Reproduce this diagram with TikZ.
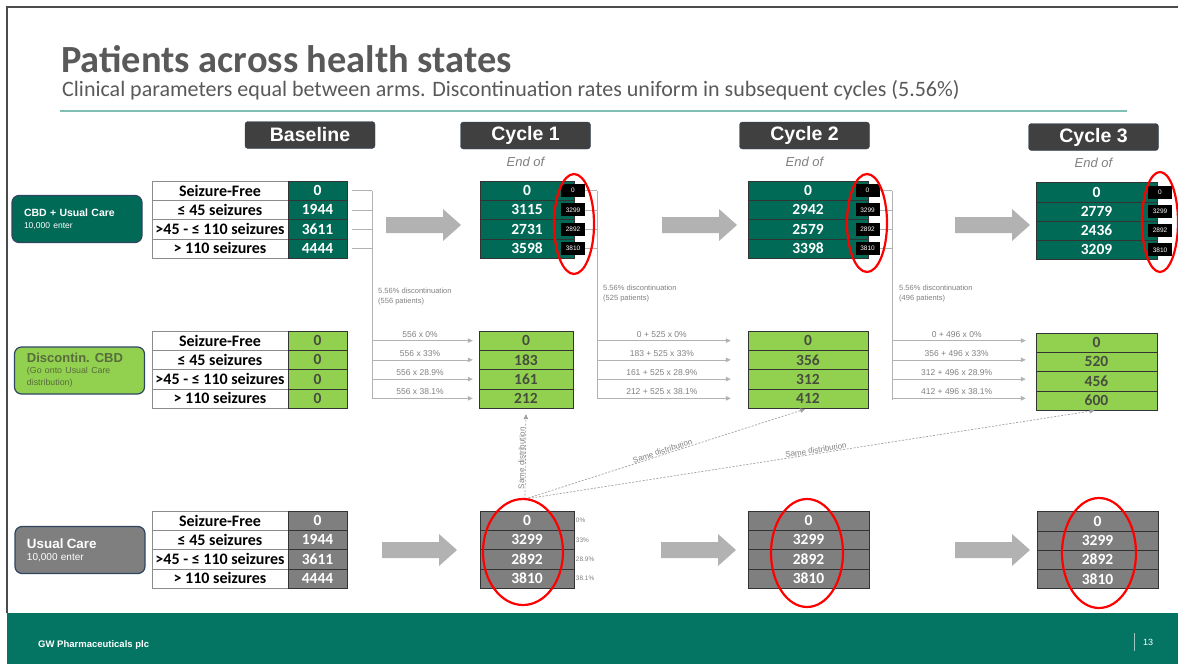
\documentclass[tikz,border=0pt]{standalone}
\usepackage{fontspec}
\setmainfont{Carlito}
\newfontfamily\arialf{Liberation Sans}
\usetikzlibrary{positioning,arrows.meta}

\definecolor{cbdgreen}{RGB}{0,106,87}
\definecolor{disgreen}{RGB}{146,208,80}
\definecolor{ucgray}{RGB}{127,127,127}
\definecolor{footgreen}{RGB}{3,117,98}
\definecolor{titlegray}{RGB}{89,89,89}
\definecolor{rulecol}{RGB}{127,191,180}
\definecolor{hdrgray}{RGB}{64,64,64}
\definecolor{hdrline}{RGB}{47,69,97}
\definecolor{linegray}{RGB}{178,178,178}
\definecolor{dashgray}{RGB}{160,160,160}
\definecolor{txtgray}{RGB}{128,128,128}
\definecolor{arrgray}{RGB}{178,178,178}
\definecolor{numdark}{RGB}{70,78,62}
\definecolor{distxt}{RGB}{88,108,60}

\begin{document}
\begin{tikzpicture}[x=1pt, y=-1pt,
    hdr/.style    ={fill=hdrgray, draw=hdrline, rounded corners=3pt, text=white, inner sep=0pt,
                    minimum width=130pt, minimum height=27pt, font=\arialf\bfseries\fontsize{19.5}{22}\selectfont},
    endof/.style  ={text=txtgray, inner sep=0pt, font=\arialf\itshape\fontsize{13}{15}\selectfont},
    armbox/.style ={draw=hdrline, line width=1.2pt, rounded corners=7pt, inner sep=0pt, align=left,
                    minimum width=130pt, minimum height=47pt, font=\arialf},
    lab/.style    ={draw=black!45, fill=white, inner sep=0pt, minimum width=136pt, minimum height=19.25pt,
                    font=\bfseries\fontsize{16}{18}\selectfont},
    val/.style    ={draw=black!80, inner sep=0pt, minimum height=19.25pt, font=\bfseries\fontsize{15.5}{18}\selectfont},
    blk/.style    ={fill=black, text=white, inner sep=0pt, minimum width=24pt, minimum height=13pt,
                    font=\arialf\fontsize{6.5}{7}\selectfont},
    thinline/.style={draw=linegray, line width=0.7pt},
    flow/.style   ={thinline, -{Triangle[length=5pt,width=4.5pt]}},
    flowlbl/.style={text=txtgray, inner sep=0pt, font=\arialf\fontsize{8.5}{10}\selectfont},
    note/.style   ={text=txtgray, inner sep=0pt, align=left, font=\arialf\fontsize{7.5}{9.5}\selectfont},
    pct/.style    ={text=txtgray, inner sep=1.5pt, font=\arialf\fontsize{6.5}{8}\selectfont},
    samed/.style  ={draw=dashgray, line width=0.7pt, dash pattern=on 2pt off 1.5pt, -{Triangle[length=5pt,width=4.5pt]}},
    samelbl/.style={text=txtgray, inner sep=0.5pt, font=\arialf\fontsize{8}{9}\selectfont},
    redring/.style={draw=red, line width=2.2pt},
    foot/.style   ={text=white, inner sep=0pt, font=\arialf\bfseries\fontsize{9.5}{11}\selectfont}
  ]
  \useasboundingbox (0,0) rectangle (1178,664);

  % frame, title
  \draw[black!70, line width=1.5pt] (7,613) -- (7,7) -- (1178,7);
  \node[anchor=base west, inner sep=0pt, text=titlegray, font=\bfseries\fontsize{38.4}{40}\selectfont] (title) at (61,72) {Patients across health states};
  \node[anchor=base west, inner sep=0pt, text=titlegray, font=\fontsize{22}{24}\selectfont] (subtitle) at (62,96) {Clinical parameters equal between arms. Discontinuation rates uniform in subsequent cycles (5.56\%)};
  \draw[rulecol, line width=2.5pt] (60,111) -- (1127,111);

  % column heads
  \node[hdr] (hbase) at (310,135) {Baseline};
  \node[hdr] (hc1) at (525.5,135.5) {Cycle 1};
  \node[hdr] (hc2) at (804.5,135.5) {Cycle 2};
  \node[hdr] (hc3) at (1093.5,137) {Cycle 3};
  \node[endof, below=8pt of hc1] (end1) {End of};
  \node[endof, below=8pt of hc2] (end2) {End of};
  \node[endof, below=7pt of hc3] (end3) {End of};

  % arms
  \node[armbox, fill=cbdgreen, text=white, text width=106pt] (armcbd) at (77,219)
    {\bfseries\fontsize{10.5}{12}\selectfont CBD + Usual Care\\\mdseries\fontsize{8.5}{10}\selectfont 10,000 enter};
  \node[armbox, fill=disgreen, text=distxt, text width=105pt] (armdis) at (79.5,370.5)
    {\bfseries\fontsize{13}{14}\selectfont Discontin. CBD\\[1pt]\mdseries\fontsize{8.8}{10}\selectfont (Go onto Usual Care\\distribution)};
  \node[armbox, fill=ucgray, text=white, text width=106pt] (armuc) at (80,550)
    {\bfseries\fontsize{13.4}{15}\selectfont Usual Care\\\mdseries\fontsize{10}{12}\selectfont 10,000 enter};

  % baseline tables
  \foreach \r/\y/\fc/\tc/\va/\vb/\vc/\vd in {cbd/190.6/cbdgreen/white/0/1944/3611/4444,
      dis/340.6/disgreen/numdark/0/0/0/0, uc/520.6/ucgray/white/0/1944/3611/4444}
    \foreach \t/\v [count=\i] in {Seizure-Free/\va, ≤ 45 seizures/\vb, >45 - ≤ 110 seizures/\vc, > 110 seizures/\vd}{
      \node[lab] (\r-b-l\i) at (220,\y+19.25*\i-19.25) {\t};
      \node[val, fill=\fc, text=\tc, minimum width=59pt] (\r-b-\i) at (317.5,\y+19.25*\i-19.25) {\v};
    }

  % cycle tables
  \foreach \r/\y/\fc/\tc/\c/\x/\w/\va/\vb/\vc/\vd in {
      cbd/190.6/cbdgreen/white/1/527/94pt/0/3115/2731/3598,
      cbd/190.6/cbdgreen/white/2/808/120pt/0/2942/2579/3398,
      cbd/192.1/cbdgreen/white/3/1096.5/121pt/0/2779/2436/3209,
      dis/340.6/disgreen/numdark/1/526/94pt/0/183/161/212,
      dis/340.6/disgreen/numdark/2/808/120pt/0/356/312/412,
      dis/342.6/disgreen/numdark/3/1096.5/121pt/0/520/456/600,
      uc/520.6/ucgray/white/1/527/94pt/0/3299/2892/3810,
      uc/520.6/ucgray/white/2/808.5/121pt/0/3299/2892/3810,
      uc/521.1/ucgray/white/3/1097.5/121pt/0/3299/2892/3810}
    \foreach \v [count=\i] in {\va,\vb,\vc,\vd}
      \node[val, fill=\fc, text=\tc, minimum width=\w] (\r-c\c-\i) at (\x,\y+19.25*\i-19.25) {\v};

  \foreach \c/\x/\y in {1/573/190.6, 2/867.5/190.6, 3/1160/192.1}
    \foreach \v [count=\i] in {0,3299,2892,3810}
      \node[blk] (cbd-k\c-\i) at (\x,\y+19.25*\i-19.25) {\v};

  \foreach \p [count=\i] in {0\%,33\%,28.9\%,38.1\%}
    \node[pct, anchor=west] (uc-p\i) at (uc-c1-\i.east) {\p};

  % discontinuation brackets
  \coordinate (br0) at (372,0);
  \coordinate (br1) at (597,0);
  \coordinate (br2) at (892,0);
  \draw[thinline] (br0 |- cbd-b-1) -- (br0 |- dis-c1-4);
  \draw[thinline] (br1 |- cbd-k1-1) -- (br1 |- dis-c2-4);
  \draw[thinline] (br2 |- cbd-k2-1) -- (br2 |- dis-c3-4);
  \foreach \i in {1,...,4}{
    \draw[thinline, shorten <=5pt] (cbd-b-\i.east) -- (br0 |- cbd-b-\i);
    \draw[thinline] (cbd-k1-\i.east) -- (br1 |- cbd-k1-\i);
    \draw[thinline] (cbd-k2-\i.east) -- (br2 |- cbd-k2-\i);
  }
  \node[note, anchor=north west] (note0) at (378,288) {5.56\% discontinuation\\(556 patients)};
  \node[note, anchor=north west] (note1) at (603,285) {5.56\% discontinuation\\(525 patients)};
  \node[note, anchor=north west] (note2) at (899,285) {5.56\% discontinuation\\(496 patients)};

  \foreach \i/\a/\b/\d in {1/556 x 0\%/0 + 525 x 0\%/0 + 496 x 0\%,
      2/556 x 33\%/183 + 525 x 33\%/356 + 496 x 33\%,
      3/556 x 28.9\%/161 + 525 x 28.9\%/312 + 496 x 28.9\%,
      4/556 x 38.1\%/212 + 525 x 38.1\%/412 + 496 x 38.1\%}{
    \draw[flow, shorten >=6pt] (br0 |- dis-c1-\i) -- (dis-c1-\i.west) node[flowlbl, pos=0.45, above=3pt] {\a};
    \draw[flow, shorten >=17pt] (br1 |- dis-c2-\i) -- (dis-c2-\i.west) node[flowlbl, pos=0.43, above=3pt] {\b};
    \draw[flow, shorten >=10pt] (br2 |- dis-c2-\i) -- (dis-c2-\i.west -| dis-c3-\i.west) node[flowlbl, pos=0.45, above=3pt] {\d};
  }

  % block arrows
  \foreach \x/\y in {386/225, 662/225, 955/225, 382/550, 661/550, 955/550}
    \fill[arrgray] (\x,\y-8) -- ++(57,0) -- ++(0,-8) -- ++(18,16) -- ++(-18,16) -- ++(0,-8) -- ++(-57,0) -- cycle;

  % same distribution
  \coordinate (src) at (525,499);
  \draw[samed, shorten >=6pt] (src) -- (dis-c1-4.south) node[samelbl, pos=0.45, sloped, above] {Same distribution};
  \draw[samed, shorten >=3pt] (src) -- (dis-c2-4.south) node[samelbl, pos=0.49, sloped, above] {Same distribution};
  \draw[samed, shorten >=2pt] (src) -- (dis-c3-4.south) node[samelbl, pos=0.51, sloped, above] {Same distribution};

  % red rings
  \foreach \x/\y/\rx/\ry in {574/224/20/50, 867/223/20/49, 1160/222/18/50, 523/552/40/53, 807/553/36/54, 1099/553/37/55}
    \draw[redring] (\x,\y) ellipse [x radius=\rx, y radius=\ry];

  % footer
  \fill[footgreen] (7,613) rectangle (1178,664);
  \node[foot, anchor=west] (ftxt) at (38,645) {GW Pharmaceuticals plc};
  \node[foot, anchor=west, font=\arialf\fontsize{9}{11}\selectfont] (pgno) at (1143,642) {13};
  \draw[white!60!footgreen, line width=0.7pt] (1134,633) -- (1134,651);
\end{tikzpicture}
\end{document}
